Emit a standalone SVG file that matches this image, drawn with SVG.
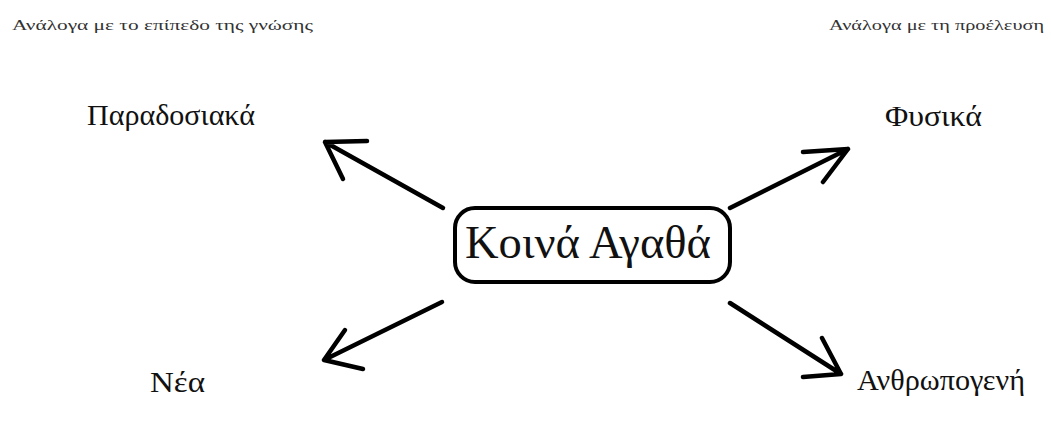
<svg xmlns="http://www.w3.org/2000/svg" width="1051" height="421" viewBox="0 0 1051 421">
<style>
.t{font-family:"Liberation Serif","DejaVu Serif",serif;fill:#111}
.s{font-size:15px;fill:#333}
.l{font-size:29px}
.c{font-size:47px}
.a{fill:none;stroke:#000;stroke-width:4.5;stroke-linecap:round;stroke-linejoin:round}
</style>
<rect width="1051" height="421" fill="#fff"/>
<g id="label-left"><text class="t s" x="12" y="30" textLength="301" lengthAdjust="spacingAndGlyphs">Ανάλογα με το  επίπεδο της γνώσης</text></g>
<g id="label-right"><text class="t s" x="829" y="30" textLength="215" lengthAdjust="spacingAndGlyphs">Ανάλογα με τη προέλευση</text></g>
<g id="center">
<rect x="455" y="208" width="275" height="74" rx="20" fill="#fff" stroke="#000" stroke-width="4"/>
<text class="t c" x="465" y="258" textLength="246" lengthAdjust="spacingAndGlyphs">Κοινά Αγαθά</text>
</g>
<g id="paradosiaka"><text class="t l" x="87" y="125" textLength="168" lengthAdjust="spacingAndGlyphs">Παραδοσιακά</text></g>
<g id="fysika"><text class="t l" x="885" y="126" textLength="97" lengthAdjust="spacingAndGlyphs">Φυσικά</text></g>
<g id="nea"><text class="t l" x="150" y="392" textLength="55" lengthAdjust="spacingAndGlyphs">Νέα</text></g>
<g id="anthropogeni"><text class="t l" x="857" y="390" textLength="168" lengthAdjust="spacingAndGlyphs">Ανθρωπογενή</text></g>
<g id="connectors">
<path class="a" d="M443 208 L325 142 M367 141 L325 142 L343 179"/>
<path class="a" d="M730 208 L848 149 M803 152 L848 149 L823 182"/>
<path class="a" d="M442 302 L324 360 M345 330 L324 360 L363 369"/>
<path class="a" d="M730 303 L841 374 M822 338 L841 374 L803 377"/>
</g>
</svg>
